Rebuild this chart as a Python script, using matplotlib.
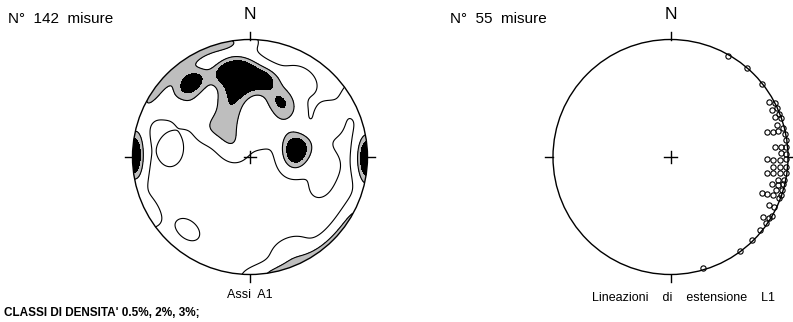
import numpy as np
import matplotlib
matplotlib.use("Agg")
import matplotlib.pyplot as plt
from matplotlib.patches import Circle

plt.rcParams["font.family"] = ["Liberation Sans", "DejaVu Sans"]

# Assi A1: poles grouped on the equal-area net (east, north, number of measures)
axes_east = [-0.20, -0.07, 0.12, -0.10, -0.15, -0.20, -0.18, -0.12, 0.22, 0.33, 0.00, 0.30,
             -0.50,
             -0.881, -0.791, -0.675, -0.539, -0.387, -0.222, -0.085, -0.70,
             -1.00, -0.98, -0.98,
             0.39, 0.39, 0.37,
             0.43, 0.68, 0.08, -0.51, -0.68, 0.68, 0.60, 0.34, -0.85, -0.53,
             -0.35, 0.25, 0.80, 0.55, -0.30]
axes_north = [0.72, 0.76, 0.66, 0.58, 0.43, 0.30, 0.16, 0.06, 0.47, 0.40, 0.65, 0.52,
              0.63,
              0.449, 0.596, 0.724, 0.831, 0.912, 0.964, 0.975, 0.45,
              0.00, 0.13, -0.12,
              0.10, 0.02, -0.06,
              0.66, 0.32, 0.20, 0.40, 0.06, -0.07, -0.24, -0.79, -0.45, -0.62,
              0.25, 0.28, 0.45, 0.12, 0.50]
axes_count = [7, 6, 7, 6, 4, 4, 3, 2, 4, 3, 2, 2,
              9,
              3, 3, 3, 3, 3, 3, 2, 2,
              8, 3, 2,
              6, 4, 2,
              3, 3, 3, 3, 3, 2, 2, 3, 2, 2,
              3, 2, 1, 2, 2]
density_classes = [0.5, 2, 3]

# Lineazioni di estensione L1 (east, north on the net)
lin_east = [0.492, 0.649, 0.781, 0.841, 0.889, 0.861, 0.909, 0.889, 0.938, 0.904,
            0.955, 0.819, 0.870, 0.917, 0.980, 0.889, 0.938, 0.983, 0.938, 0.983,
            0.819, 0.875, 0.932, 0.983, 0.875, 0.932, 0.983, 0.819, 0.875, 0.932,
            0.980, 0.917, 0.966, 0.861, 0.912, 0.955, 0.898, 0.946, 0.776, 0.824,
            0.875, 0.923, 0.841, 0.881, 0.790, 0.838, 0.862, 0.810, 0.762, 0.696,
            0.591, 0.279, 0.974, 0.940, 0.925]
lin_north = [0.862, 0.760, 0.619, 0.471, 0.457, 0.400, 0.414, 0.343, 0.329, 0.272,
             0.244, 0.215, 0.215, 0.221, 0.145, 0.088, 0.088, 0.088, 0.031, 0.026,
             -0.020, -0.026, -0.026, -0.020, -0.083, -0.083, -0.083, -0.139, -0.139, -0.134,
             -0.139, -0.196, -0.196, -0.230, -0.238, -0.230, -0.281, -0.281, -0.304, -0.315,
             -0.323, -0.351, -0.409, -0.428, -0.508, -0.522, -0.500, -0.564, -0.621, -0.706,
             -0.797, -0.947, 0.196, -0.325, 0.370]


def net_to_vec(x, y):
    # lower hemisphere, Schmidt (equal-area) net
    x = np.asarray(x, float)
    y = np.asarray(y, float)
    r = np.clip(np.hypot(x, y), 0, 1)
    theta = 2 * np.arcsin(r / np.sqrt(2))
    az = np.arctan2(x, y)
    return np.stack([np.sin(theta) * np.sin(az),
                     np.sin(theta) * np.cos(az),
                     -np.cos(theta)], axis=-1)


def draw_net(ax):
    ax.set_xlim(-1.3, 1.3)
    ax.set_ylim(-1.3, 1.3)
    ax.set_aspect("equal")
    ax.axis("off")
    ax.add_patch(Circle((0, 0), 1, fill=False, lw=1.0, color="black", zorder=5))
    t = 0.065
    for a, b in [((0, 1), (0, 1 + t)), ((0, -1), (0, -1 - t)),
                 ((1, 0), (1 + t, 0)), ((-1, 0), (-1 - t, 0))]:
        ax.plot([a[0], b[0]], [a[1], b[1]], color="black", lw=1.0, zorder=5)
    c = 0.055
    ax.plot([-c, c], [0, 0], color="black", lw=1.0, zorder=6)
    ax.plot([0, 0], [-c, c], color="black", lw=1.0, zorder=6)
    ax.text(0, 1.215, "N", ha="center", va="center", fontsize=12.5)


fig = plt.figure(figsize=(7.93, 3.22), dpi=100)
W, H = 793, 322
R = 117.5
size = 2 * 1.3 * R


def net_axes(cx, cy):
    return fig.add_axes([(cx - size / 2) / W, (H - cy - size / 2) / H, size / W, size / H])


# ---- left net: density contours of the axes
ax1 = net_axes(250, 157)
draw_net(ax1)

counts = np.array(axes_count, float)
n_axes = int(counts.sum())
poles = net_to_vec(axes_east, axes_north)
k = 60.0
gx, gy = np.meshgrid(np.linspace(-1.02, 1.02, 361), np.linspace(-1.02, 1.02, 361))
grid = net_to_vec(gx, gy)
cosang = np.abs(grid @ poles.T)
dens = k / n_axes * (np.exp(k * (cosang - 1)) * counts).sum(axis=-1)

clip = Circle((0, 0), 1, transform=ax1.transData)
cf = ax1.contourf(gx, gy, dens, levels=[density_classes[1], density_classes[2], 1e9],
                  colors=["#bebebe", "black"])
cl = ax1.contour(gx, gy, dens, levels=density_classes[:2], colors="black", linewidths=0.8)
cf.set_clip_path(clip)
cl.set_clip_path(clip)

# ---- right net: lineations
ax2 = net_axes(670.5, 157)
draw_net(ax2)
ax2.plot(lin_east, lin_north, "o", ms=3.8, mfc="none", mec="black", mew=0.8, zorder=7)

fig.text(8 / W, 1 - 19 / H, "N°  %d  misure" % n_axes, fontsize=11, va="center")
fig.text(450 / W, 1 - 19 / H, "N°  %d  misure" % len(lin_east), fontsize=11, va="center")
fig.text(250 / W, 1 - 295 / H, "Assi  A1", fontsize=9, ha="center", va="center")
fig.text(683 / W, 1 - 298 / H, "Lineazioni    di    estensione    L1", fontsize=9,
         ha="center", va="center")
fig.text(4 / W, 1 - 313 / H, "CLASSI DI DENSITA' 0.5%, 2%, 3%;", fontsize=8.5,
         fontweight="bold", va="center")

fig.savefig("out.png", dpi=100)
